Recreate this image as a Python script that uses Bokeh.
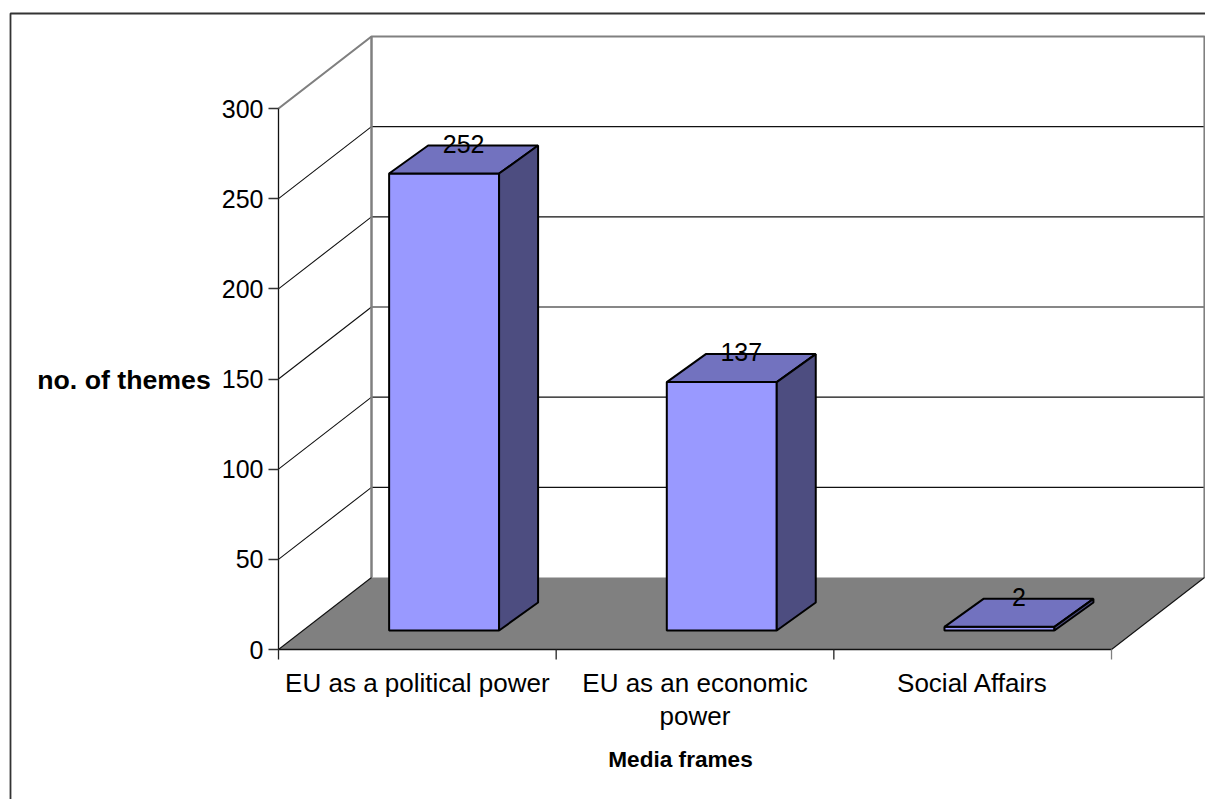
from bokeh.plotting import figure
from bokeh.embed import file_html
from bokeh.resources import INLINE
from bokeh.models import FixedTicker
from bokeh.core.properties import value

categories = ["EU as a political power", "EU as an economic\npower", "Social Affairs"]
themes = [252, 137, 2]
y_ticks = [0, 50, 100, 150, 200, 250, 300]
y_title = "no. of themes"
x_title = "Media frames"

W, H = 1205, 799
FONT = "Liberation Sans"
PX_X = 277.67
PX_Y = 541 / 300
X0, Y0 = 278, 649
DX = 93 / PX_X
DY = 72 / PX_Y
BAR_LEFT = 0.31
BAR_W = 0.396
D0, D1 = 0.264, 0.653
BAR_DX = 39 / PX_X
BAR_SCALE = 1.0055
YMAX = y_ticks[-1]
NCAT = len(categories)
XEND = (W - X0) / PX_X

p = figure(
    width=W, height=H, output_backend="svg", toolbar_location=None,
    x_range=(-X0 / PX_X, XEND),
    y_range=((Y0 - H) / PX_Y, Y0 / PX_Y),
    min_border=0, outline_line_color=None,
)
p.xgrid.visible = False
p.ygrid.visible = False
p.xaxis.visible = False

# frame (top and left edges)
XL = (10 - X0) / PX_X
YT = (Y0 - 13) / PX_Y
p.line([XL, XL, XEND], [p.y_range.start, YT, YT], line_color="#333333", line_width=1.8)

# floor
p.patch([0, NCAT, NCAT + DX, DX], [0, 0, DY, DY], fill_color="#808080", line_color=None)

# gridlines on side wall and back wall
for t in y_ticks[1:-1]:
    p.line([0, DX, NCAT + DX], [t, t + DY, t + DY], line_color="#111111", line_width=1.1)
p.line([0, DX, NCAT + DX, NCAT + DX], [YMAX, YMAX + DY, YMAX + DY, DY], line_color="#808080", line_width=2.2)
p.line([DX, DX], [DY, YMAX + DY], line_color="#808080", line_width=2.5)

# floor edges and category ticks
p.line([0, DX], [0, DY], line_color="#111111", line_width=1.1)
p.line([NCAT, NCAT + DX], [0, DY], line_color="#111111", line_width=1.1)
p.line([0, NCAT], [0, 0], line_color="#111111", line_width=1.3)
for i in range(NCAT + 1):
    p.line([i, i], [0, -10 / PX_Y], line_color="#808080" if i == NCAT else "#222222", line_width=1.3)

# bars
for i, v in enumerate(themes):
    h = v * BAR_SCALE
    xl = i + BAR_LEFT + D0 * DX
    xr = xl + BAR_W
    y0 = D0 * DY
    ddx = BAR_DX
    ddy = (D1 - D0) * DY
    p.patch([xl, xr, xr, xl], [y0, y0, y0 + h, y0 + h], fill_color="#9999FF", line_color="#000000", line_width=2)
    p.patch([xl, xr, xr + ddx, xl + ddx], [y0 + h, y0 + h, y0 + h + ddy, y0 + h + ddy],
            fill_color="#7272BF", line_color="#000000", line_width=2)
    p.patch([xr, xr + ddx, xr + ddx, xr], [y0, y0 + ddy, y0 + h + ddy, y0 + h],
            fill_color="#4D4D80", line_color="#000000", line_width=2)
    p.text([xl + (BAR_W + ddx) / 2], [y0 + h + ddy], text=[str(v)], text_align="center", text_baseline="middle",
           text_font=value(FONT), text_font_size="25px", text_color="#000000", y_offset=-2)

# category labels
for i, c in enumerate(categories):
    for j, line in enumerate(c.split("\n")):
        p.text([i + 0.5], [0], text=[line], text_align="center", text_baseline="middle",
               y_offset=33 + 33 * j, text_font=value(FONT), text_font_size="26px", text_color="#000000")

# axis titles
p.text([(123.5 - X0) / PX_X], [(Y0 - 379) / PX_Y], text=[y_title], text_align="center", text_baseline="middle",
       text_font=value(FONT), text_font_size="26.7px", text_font_style="bold", text_color="#000000")
p.text([(680 - X0) / PX_X], [(Y0 - 759) / PX_Y], text=[x_title], text_align="center", text_baseline="middle",
       text_font=value(FONT), text_font_size="22.6px", text_font_style="bold", text_color="#000000")

# value axis
ax = p.yaxis[0]
ax.fixed_location = 0
ax.bounds = (0, YMAX)
ax.ticker = FixedTicker(ticks=y_ticks)
ax.major_tick_in = 0
ax.major_tick_out = 10
ax.minor_tick_out = 0
ax.minor_tick_in = 0
ax.major_tick_line_color = "#333333"
ax.major_tick_line_width = 1.3
ax.axis_line_color = "#111111"
ax.axis_line_width = 1.3
ax.major_label_standoff = 5
ax.major_label_text_font = FONT
ax.major_label_text_font_size = "25px"
ax.major_label_text_color = "#000000"

open("out.html", "w").write(file_html(p, INLINE))
